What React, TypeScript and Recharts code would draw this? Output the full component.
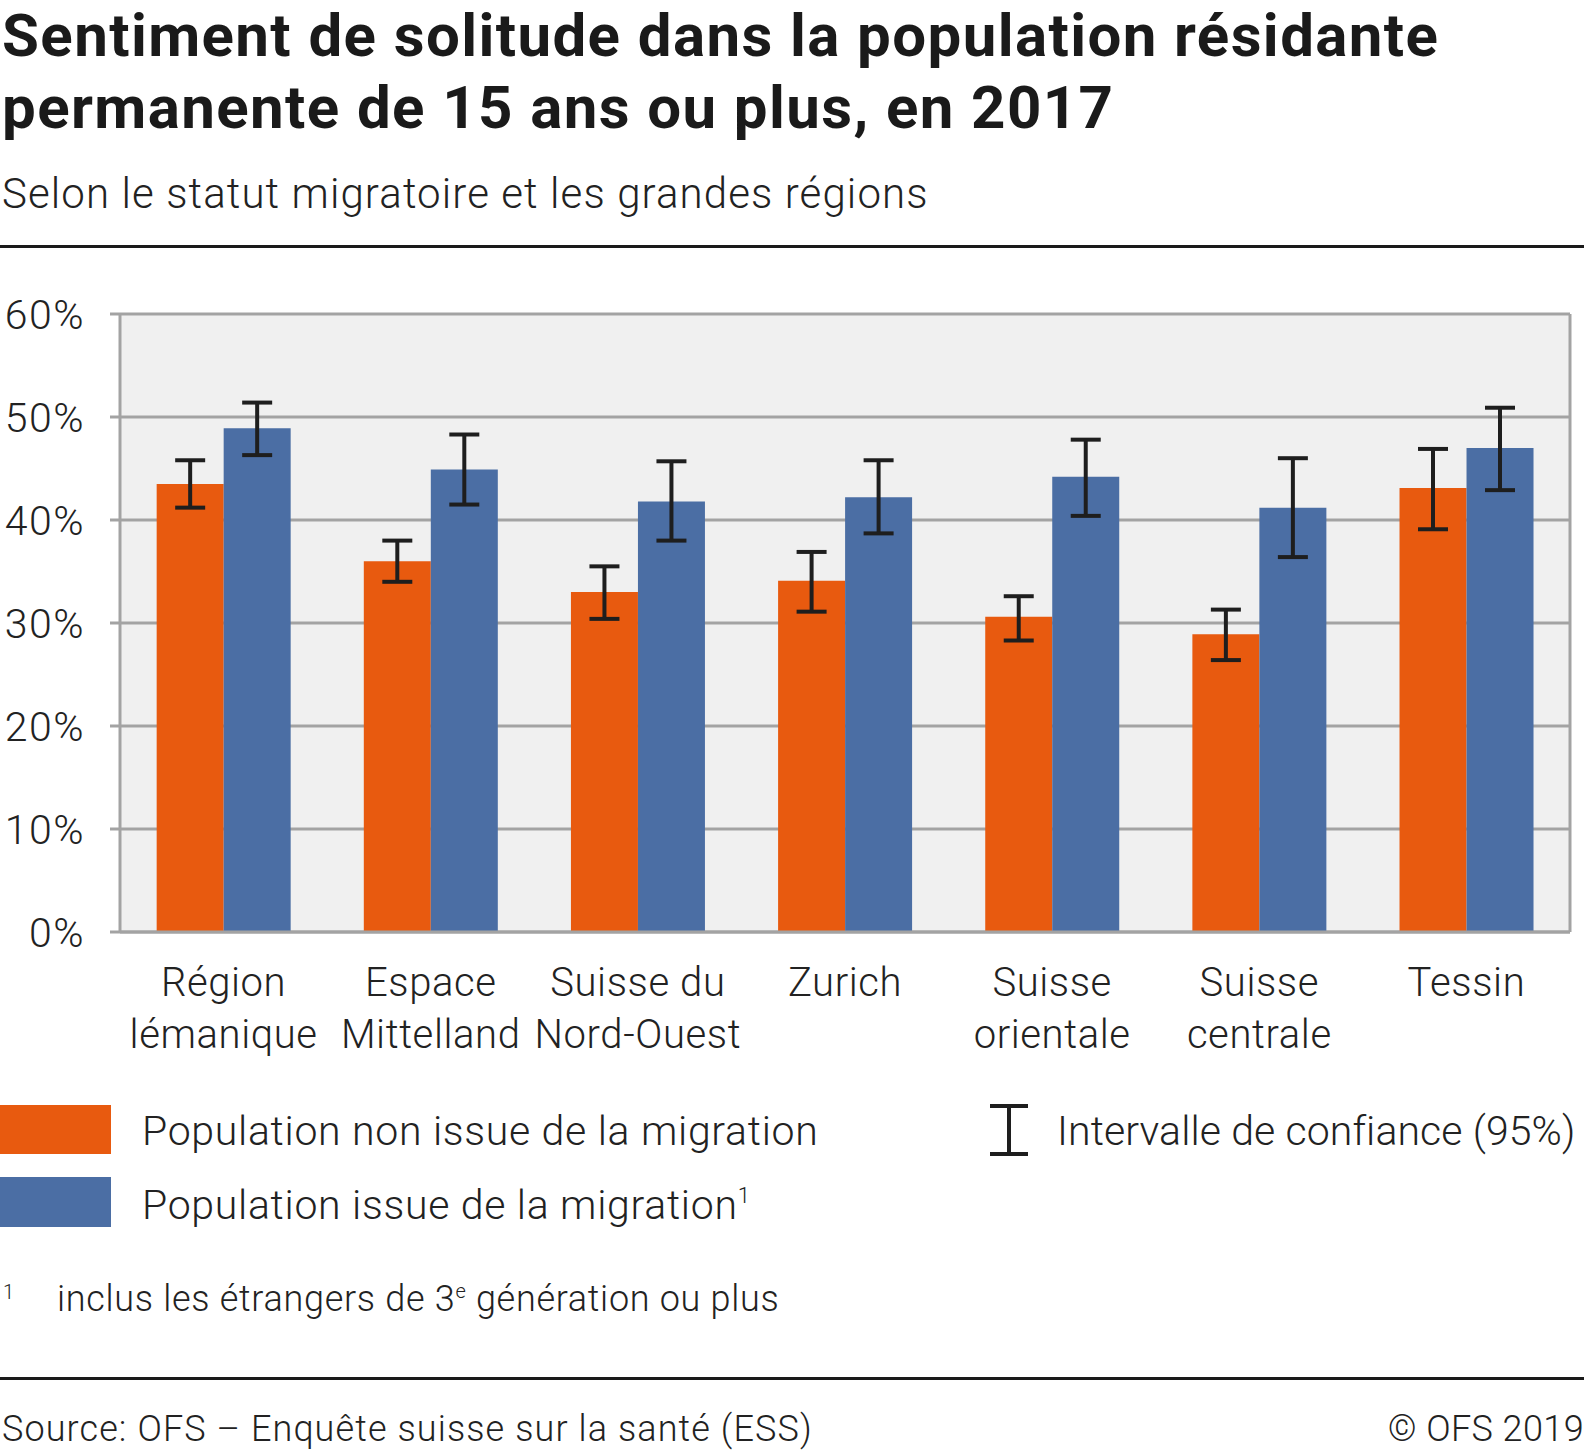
import React from "react";
import { BarChart, Bar, XAxis, YAxis, CartesianGrid, ErrorBar } from "recharts";

// categories (line breaks as in the original labels)
const regions = [
  "Région\nlémanique",
  "Espace\nMittelland",
  "Suisse du\nNord-Ouest",
  "Zurich",
  "Suisse\norientale",
  "Suisse\ncentrale",
  "Tessin",
];

// Population non issue de la migration, % and 95% CI bounds
const nonMigrants = [43.5, 36.0, 33.0, 34.1, 30.6, 28.9, 43.1];
const nonMigrantsLow = [41.2, 34.0, 30.4, 31.1, 28.3, 26.4, 39.1];
const nonMigrantsHigh = [45.8, 38.0, 35.5, 36.9, 32.6, 31.3, 46.9];

// Population issue de la migration, % and 95% CI bounds
const migrants = [48.9, 44.9, 41.8, 42.2, 44.2, 41.2, 47.0];
const migrantsLow = [46.3, 41.5, 38.0, 38.7, 40.4, 36.4, 42.9];
const migrantsHigh = [51.4, 48.3, 45.7, 45.8, 47.8, 46.0, 50.9];

const yTicks = [0, 10, 20, 30, 40, 50, 60];

const seriesNames = [
  "Population non issue de la migration",
  "Population issue de la migration",
];
const colors = ["#e85a0f", "#4b6ea4"];

const chartData = regions.map((name, i) => ({
  name,
  nonMig: nonMigrants[i],
  nonMigErr: [nonMigrants[i] - nonMigrantsLow[i], nonMigrantsHigh[i] - nonMigrants[i]],
  mig: migrants[i],
  migErr: [migrants[i] - migrantsLow[i], migrantsHigh[i] - migrants[i]],
}));

const FONT = "Roboto, 'Noto Sans', sans-serif";
const TEXT = "#222222";
const GRID = "#a3a3a3";

function CategoryTick(props: any) {
  const { x, y, payload } = props;
  const lines = String(payload.value).split("\n");
  return (
    <text
      x={x}
      y={y}
      textAnchor="middle"
      fill={TEXT}
      fontSize={40}
      fontFamily={FONT}
      fontWeight={300}
      letterSpacing={0.6}
    >
      {lines.map((l, i) => (
        <tspan key={i} x={x} dy={i === 0 ? 64 : 52}>
          {l}
        </tspan>
      ))}
    </text>
  );
}

const abs = (top: number, left: number, extra: React.CSSProperties = {}): React.CSSProperties => ({
  position: "absolute",
  top,
  left,
  whiteSpace: "nowrap",
  fontFamily: FONT,
  color: TEXT,
  ...extra,
});

export default function App() {
  return (
    <div style={{ position: "absolute", top: 0, left: 0, width: 1587, height: 1452, background: "#fff", overflow: "hidden" }}>
      <div style={abs(0, 2, { fontSize: 60, lineHeight: "72px", fontWeight: 700, letterSpacing: 1.4, color: "#1a1a1a" })}>
        Sentiment de solitude dans la population résidante
        <br />
        permanente de 15 ans ou plus, en 2017
      </div>
      <div style={abs(169, 2, { fontSize: 42, lineHeight: "50px", fontWeight: 300, letterSpacing: 1.1 })}>
        Selon le statut migratoire et les grandes régions
      </div>
      <div style={{ position: "absolute", top: 245, left: 0, width: 1584, height: 3, background: "#1a1a1a" }} />

      <div style={{ position: "absolute", top: 0, left: 0 }}>
        <BarChart
          width={1587}
          height={1452}
          data={chartData}
          margin={{ top: 314, right: 16, bottom: 400, left: 0 }}
          barCategoryGap="17.7%"
          barGap={0}
        >
          <CartesianGrid vertical={false} fill="#f0f0f0" stroke={GRID} strokeWidth={3} />
          <XAxis
            dataKey="name"
            interval={0}
            height={120}
            tickLine={false}
            tickSize={0}
            tickMargin={0}
            axisLine={{ stroke: GRID, strokeWidth: 3 }}
            tick={<CategoryTick />}
          />
          <YAxis
            domain={[0, 60]}
            ticks={yTicks}
            width={120}
            tickSize={10}
            tickMargin={25}
            tickLine={{ stroke: GRID, strokeWidth: 3 }}
            axisLine={{ stroke: GRID, strokeWidth: 3 }}
            tickFormatter={(v) => `${v}%`}
            tick={{ fill: TEXT, fontSize: 41, fontFamily: FONT, fontWeight: 300, letterSpacing: 1.5 }}
          />
          <YAxis
            yAxisId="right"
            orientation="right"
            domain={[0, 60]}
            ticks={yTicks}
            width={1}
            tick={false}
            tickLine={false}
            axisLine={{ stroke: GRID, strokeWidth: 3 }}
          />
          <Bar dataKey="nonMig" fill={colors[0]} isAnimationActive={false}>
            <ErrorBar dataKey="nonMigErr" width={15} strokeWidth={4} stroke="#1e1e1e" direction="y" />
          </Bar>
          <Bar dataKey="mig" fill={colors[1]} isAnimationActive={false}>
            <ErrorBar dataKey="migErr" width={15} strokeWidth={4} stroke="#1e1e1e" direction="y" />
          </Bar>
        </BarChart>
      </div>

      {/* legend */}
      <div style={{ position: "absolute", top: 1105, left: 0, width: 111, height: 49, background: colors[0] }} />
      <div style={abs(1107, 142, { fontSize: 41, lineHeight: "48px", fontWeight: 300, letterSpacing: 0.7 })}>{seriesNames[0]}</div>
      <div style={{ position: "absolute", top: 1177, left: 0, width: 111, height: 50, background: colors[1] }} />
      <div style={abs(1181, 142, { fontSize: 41, lineHeight: "48px", fontWeight: 300, letterSpacing: 0.7 })}>
        {seriesNames[1]}
        <sup style={{ fontSize: 22, verticalAlign: "top", lineHeight: "30px" }}>1</sup>
      </div>
      <svg style={{ position: "absolute", top: 1104, left: 988 }} width={42} height={52}>
        <line x1={21} y1={2} x2={21} y2={50} stroke="#1e1e1e" strokeWidth={4} />
        <line x1={2} y1={2} x2={40} y2={2} stroke="#1e1e1e" strokeWidth={4} />
        <line x1={2} y1={50} x2={40} y2={50} stroke="#1e1e1e" strokeWidth={4} />
      </svg>
      <div style={abs(1107, 1057, { fontSize: 41, lineHeight: "48px", fontWeight: 300, letterSpacing: 0.1 })}>
        Intervalle de confiance (95%)
      </div>

      {/* footnote */}
      <div style={abs(1280, 3, { fontSize: 20, lineHeight: "24px", fontWeight: 300 })}>1</div>
      <div style={abs(1278, 57, { fontSize: 36, lineHeight: "42px", fontWeight: 300, letterSpacing: 0.7 })}>
        inclus les étrangers de 3<sup style={{ fontSize: 20, verticalAlign: "top", lineHeight: "26px" }}>e</sup> génération ou plus
      </div>

      <div style={{ position: "absolute", top: 1377, left: 0, width: 1584, height: 3, background: "#1a1a1a" }} />
      <div style={abs(1408, 2, { fontSize: 36, lineHeight: "42px", fontWeight: 300, letterSpacing: 1.1 })}>
        Source: OFS – Enquête suisse sur la santé (ESS)
      </div>
      <div style={abs(1408, 0, { fontSize: 36, lineHeight: "42px", fontWeight: 300, letterSpacing: 0.4, width: 1584, textAlign: "right" })}>
        © OFS 2019
      </div>
    </div>
  );
}
